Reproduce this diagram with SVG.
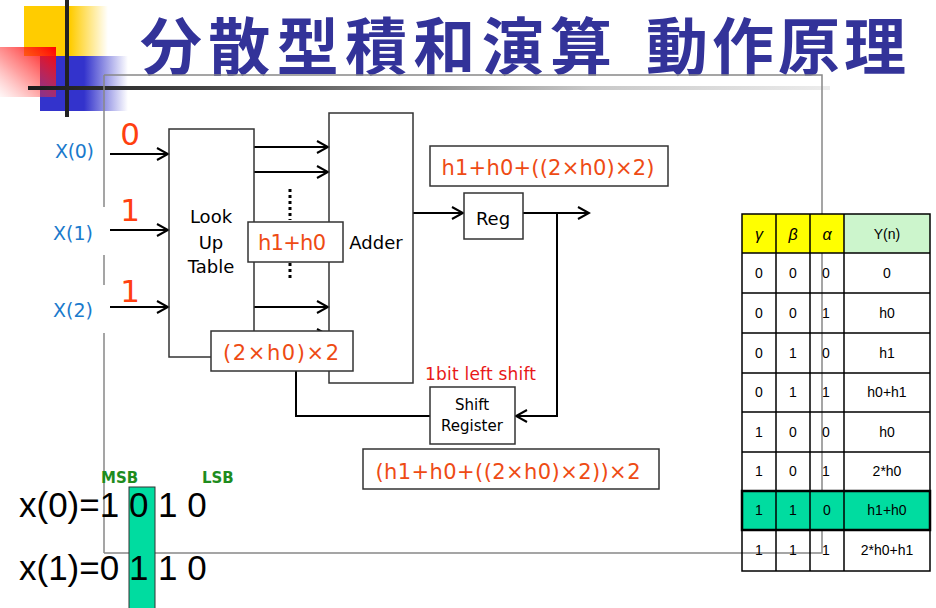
<svg xmlns="http://www.w3.org/2000/svg" width="936" height="608" viewBox="0 0 936 608">
<defs>
<linearGradient id="gY" x1="0" y1="0" x2="1" y2="0"><stop offset="0" stop-color="#ffcc00"/><stop offset="0.55" stop-color="#ffcc00"/><stop offset="1" stop-color="#ffcc00" stop-opacity="0"/></linearGradient>
<linearGradient id="gB" x1="0" y1="0" x2="1" y2="0"><stop offset="0" stop-color="#3333cc"/><stop offset="0.5" stop-color="#3333cc"/><stop offset="1" stop-color="#3333cc" stop-opacity="0"/></linearGradient>
<linearGradient id="gR" x1="1" y1="0" x2="0" y2="1"><stop offset="0" stop-color="#ff0000"/><stop offset="0.6" stop-color="#ff3030" stop-opacity="0.45"/><stop offset="1" stop-color="#ff6060" stop-opacity="0.05"/></linearGradient>
<linearGradient id="gL" gradientUnits="userSpaceOnUse" x1="28" y1="0" x2="830" y2="0"><stop offset="0" stop-color="#1a1a1a"/><stop offset="0.3" stop-color="#555"/><stop offset="0.7" stop-color="#c8c8c8"/><stop offset="1" stop-color="#ececec"/></linearGradient>
<marker id="arr" markerUnits="userSpaceOnUse" markerWidth="14" markerHeight="14" refX="12" refY="7" orient="auto"><path d="M1,1 L12,7 L1,13" fill="none" stroke="#000" stroke-width="2"/></marker>
<style>
.box{fill:#fff;stroke:#333;stroke-width:1.5}
.lbl{font-family:"DejaVu Sans",sans-serif;font-size:18px;fill:#000;text-anchor:middle}
.or{font-family:"DejaVu Sans",sans-serif;font-size:21px;fill:#ee4b14;text-anchor:middle}
.xl{font-family:"DejaVu Sans",sans-serif;font-size:19px;fill:#1a7acc}
.big{font-family:"DejaVu Sans",sans-serif;font-size:31px;fill:#ff4010;text-anchor:middle}
.cn line,.cn path{stroke:#000;stroke-width:2;fill:none}
.tb{font-family:"Liberation Sans",sans-serif;font-size:14px;fill:#000;text-anchor:middle}
.bits{font-family:"Liberation Sans",sans-serif;font-size:35px;fill:#000}
.grn{font-family:"DejaVu Sans",sans-serif;font-size:15px;font-weight:bold;fill:#1e8c1e}
</style>
</defs>
<rect width="936" height="608" fill="#fff"/>
<!-- decoration -->
<rect x="24" y="6" width="84" height="50" fill="url(#gY)"/>
<rect x="40" y="56" width="88" height="55" fill="url(#gB)"/>
<rect x="0" y="47" width="56" height="50" fill="url(#gR)"/>
<line x1="67" y1="0" x2="67" y2="117" stroke="#222" stroke-width="4"/>
<line x1="28" y1="88" x2="830" y2="88" stroke="url(#gL)" stroke-width="4"/>
<text x="140" y="70" font-family="'Noto Sans CJK JP',sans-serif" font-size="62" font-weight="bold" fill="#333399"><tspan x="140" textLength="472">分散型積和演算</tspan><tspan x="646" textLength="260">動作原理</tspan></text>
<!-- frame -->
<g id="frame" fill="none" stroke="#888" stroke-width="1.5">
<path d="M104,75 H822 V553 H104"/>
<path d="M104,75 V207 M104,255 V285 M104,333 V553"/>
</g>
<!-- connectors -->
<g id="connectors" class="cn">
<line x1="110" y1="154" x2="168" y2="154" marker-end="url(#arr)"/>
<line x1="110" y1="230" x2="168" y2="230" marker-end="url(#arr)"/>
<line x1="110" y1="307" x2="168" y2="307" marker-end="url(#arr)"/>
<line x1="254" y1="147" x2="328" y2="147" marker-end="url(#arr)"/>
<line x1="254" y1="172" x2="328" y2="172" marker-end="url(#arr)"/>
<line x1="254" y1="307" x2="328" y2="307" marker-end="url(#arr)"/>
<line x1="254" y1="335" x2="328" y2="335" marker-end="url(#arr)"/>
<line x1="290" y1="189" x2="290" y2="220" stroke-dasharray="3,3" style="stroke-width:3"/>
<line x1="290" y1="263" x2="290" y2="281" stroke-dasharray="3,3" style="stroke-width:3"/>
<line x1="413" y1="213" x2="463" y2="213" marker-end="url(#arr)"/>
<line x1="523" y1="213" x2="589" y2="213" marker-end="url(#arr)"/>
<path d="M557,213 V416 H516" marker-end="url(#arr)"/>
<path d="M430,416 H296 V371"/>
</g>
<!-- nodes -->
<g id="lut"><rect class="box" x="169" y="129" width="85" height="228" style="fill:none"/>
<text class="lbl" x="211" y="223">Look</text><text class="lbl" x="211" y="249">Up</text><text class="lbl" x="211" y="273">Table</text></g>
<g id="adder"><rect class="box" x="329" y="113" width="84" height="270" style="fill:none"/>
<text class="lbl" x="376" y="249">Adder</text></g>
<g id="sum1"><rect class="box" x="248" y="222" width="95" height="40"/><text class="or" x="292" y="250" textLength="68">h1+h0</text></g>
<g id="sum2"><rect class="box" x="211" y="331" width="142" height="40"/><text class="or" x="281" y="360" textLength="116">(2×h0)×2</text></g>
<g id="reg"><rect class="box" x="464" y="193" width="59" height="46"/><text class="lbl" x="493" y="225">Reg</text></g>
<g id="acc"><rect class="box" x="430" y="146" width="238" height="40"/><text class="or" x="548" y="175" textLength="213">h1+h0+((2×h0)×2)</text></g>
<g id="shiftreg"><rect class="box" x="430" y="387" width="85" height="57"/>
<text class="lbl" x="472" y="410" style="font-size:15px">Shift</text><text class="lbl" x="472" y="431" style="font-size:15px">Register</text></g>
<g id="shiftlbl"><text x="425" y="380" font-family="'DejaVu Sans',sans-serif" font-size="17" fill="#e81818" textLength="111">1bit left shift</text></g>
<g id="acc2"><rect class="box" x="363" y="449" width="296" height="40"/><text class="or" x="508" y="479" textLength="265">(h1+h0+((2×h0)×2))×2</text></g>
<!-- inputs -->
<g id="inputs">
<text class="xl" x="55" y="158" textLength="39">X(0)</text>
<text class="xl" x="53" y="240" textLength="40">X(1)</text>
<text class="xl" x="53" y="317" textLength="40">X(2)</text>
<text class="big" x="130" y="145">0</text>
<text class="big" x="130" y="221">1</text>
<text class="big" x="130" y="302">1</text>
</g>
<!-- table -->
<g id="table">
<rect x="742" y="214" width="102" height="39" fill="#ffff00"/>
<rect x="844" y="214" width="86" height="39" fill="#ccf5cc"/>
<rect x="742" y="491" width="188" height="39" fill="#00dca0"/>
<g stroke="#000" stroke-width="1.5" fill="none">
<rect x="742" y="214" width="188" height="357"/>
<path d="M776,214 V571 M810,214 V571 M844,214 V571 M742,253 H930 M742,293 H930 M742,333 H930 M742,373 H930 M742,412 H930 M742,452 H930"/>
<rect x="742" y="491" width="188" height="39" stroke-width="2.5"/>
</g>
<g class="tb">
<text x="759" y="240" font-style="italic" font-size="16">γ</text><text x="793" y="240" font-style="italic" font-size="16">β</text><text x="827" y="240" font-style="italic" font-size="16">α</text><text x="887" y="239">Y(n)</text>
<text x="759" y="278">0</text><text x="793" y="278">0</text><text x="826" y="278">0</text><text x="887" y="278">0</text>
<text x="759" y="318">0</text><text x="793" y="318">0</text><text x="826" y="318">1</text><text x="887" y="318">h0</text>
<text x="759" y="358">0</text><text x="793" y="358">1</text><text x="826" y="358">0</text><text x="887" y="358">h1</text>
<text x="759" y="397">0</text><text x="793" y="397">1</text><text x="826" y="397">1</text><text x="887" y="397">h0+h1</text>
<text x="759" y="437">1</text><text x="793" y="437">0</text><text x="826" y="437">0</text><text x="887" y="437">h0</text>
<text x="759" y="476">1</text><text x="793" y="476">0</text><text x="826" y="476">1</text><text x="887" y="476">2*h0</text>
<text x="759" y="515">1</text><text x="793" y="515">1</text><text x="827" y="515">0</text><text x="887" y="515">h1+h0</text>
<text x="759" y="555">1</text><text x="793" y="555">1</text><text x="826" y="555">1</text><text x="887" y="555">2*h0+h1</text>
</g>
</g>
<!-- bits -->
<g id="bits">
<rect x="129" y="487" width="26" height="125" fill="#00dca0" stroke="#333" stroke-width="1"/>
<text class="grn" x="101" y="483">MSB</text>
<text class="grn" x="202" y="483">LSB</text>
<text class="bits" x="19" y="517">x(0)=1 0 1 0</text>
<text class="bits" x="19" y="580">x(1)=0 1 1 0</text>
</g>
</svg>
